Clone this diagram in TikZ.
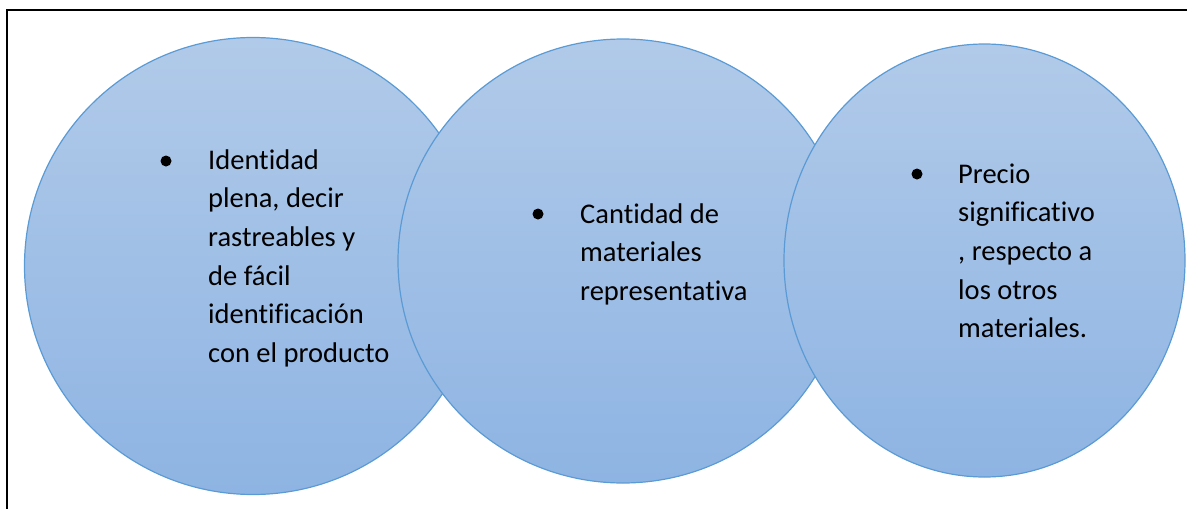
\documentclass[tikz,border=0pt]{standalone}
\usepackage{fontspec}
\setmainfont{Carlito}[Ligatures={NoCommon}]
\usetikzlibrary{shapes.geometric}
\definecolor{ctop}{RGB}{177,202,233}
\definecolor{cbot}{RGB}{142,180,227}
\definecolor{cedge}{RGB}{91,155,213}
\tikzset{
  bubble/.style={ellipse, draw=cedge, line width=1.2pt, top color=ctop, bottom color=cbot, inner sep=0pt},
  bulletdot/.style={circle, fill=black, minimum size=11pt, inner sep=0pt},
  bodytext/.style={anchor=base west, inner sep=0pt, font=\fontsize{28.5}{38.7}\selectfont, text=black},
  frameline/.style={draw=black, line width=2.6pt}
}
\begin{document}
\begin{tikzpicture}[x=1pt,y=-1pt]
\useasboundingbox (0,0) rectangle (1187,509);
\coordinate (fb) at (7,520);
\coordinate (ftl) at (7,10);
\coordinate (fr) at (1200,10);
\draw[frameline] (fb) -- (ftl) -- (fr);
\node[bubble, minimum width=457pt, minimum height=457pt] (c1) at (253,266) {};
\node[bubble, minimum width=450pt, minimum height=444pt] (c2) at (623,261) {};
\node[bubble, minimum width=401pt, minimum height=433pt] (c3) at (984.5,260.5) {};
\node[bulletdot] (b1) at (166,161) {};
\node[bulletdot] (b2) at (538,214) {};
\node[bulletdot] (b3) at (917,174) {};
\node[bodytext] (t1) at (208,169) {\parbox[t]{260pt}{\raggedright Identidad\\plena, decir\\rastreables y\\de fácil\\identificación\\con el producto}};
\node[bodytext] (t2) at (580,223) {\parbox[t]{260pt}{\raggedright Cantidad de\\materiales\\representativa}};
\node[bodytext] (t3) at (958,183) {\parbox[t]{220pt}{\raggedright Precio\\significativo\\, respecto a\\los otros\\materiales.}};
\end{tikzpicture}
\end{document}
